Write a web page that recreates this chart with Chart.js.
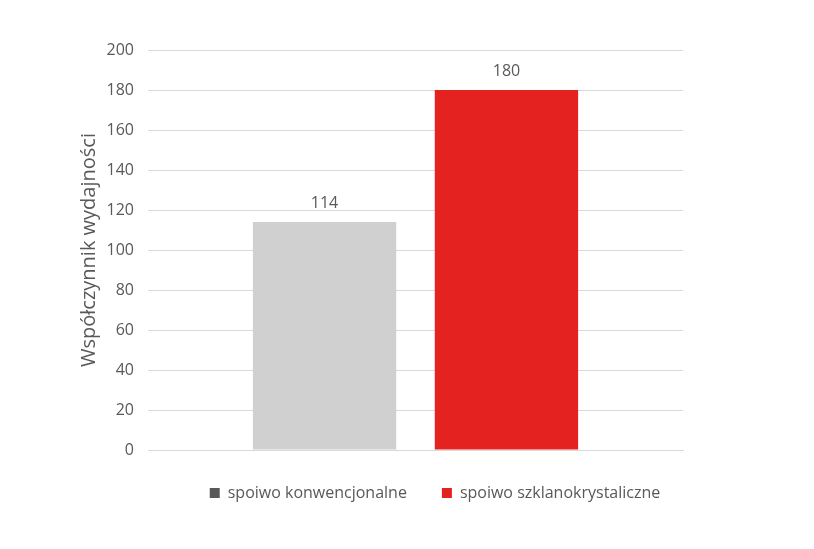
<!DOCTYPE html>
<html>
<head>
<meta charset="utf-8">
<script src="https://cdn.jsdelivr.net/npm/chart.js@4/dist/chart.umd.min.js"></script>
<style>
  html, body { margin: 0; padding: 0; background: #fff; }
  #wrap { width: 814px; height: 549px; }
</style>
</head>
<body>
<div id="wrap"><canvas id="c"></canvas></div>
<script>
/* Dane wykresu */
const CATEGORIES = ["Współczynnik"];
const SERIES_NAMES = ["spoiwo konwencjonalne", "spoiwo szklanokrystaliczne"];
const SERIES_VALUES = [[114], [180]];
const BAR_COLORS = ["#d0d0d0", "#e42320"];
const LEGEND_COLORS = ["#595959", "#e42320"];
const Y_TITLE = "Współczynnik wydajności";

const TEXT = "#595959";
const GRID = "#d9d9d9";
const FONT = "'Open Sans', 'Noto Sans', sans-serif";

/* Etykiety wartości nad słupkami */
const valueLabels = {
  id: "valueLabels",
  afterDatasetsDraw(chart) {
    const ctx = chart.ctx;
    ctx.save();
    ctx.fillStyle = TEXT;
    ctx.font = "16px " + FONT;
    ctx.textAlign = "center";
    ctx.textBaseline = "alphabetic";
    chart.data.datasets.forEach((ds, i) => {
      chart.getDatasetMeta(i).data.forEach((bar, j) => {
        ctx.fillText(String(ds.data[j]), bar.x, bar.y - 14);
      });
    });
    ctx.restore();
  },
};

const datasets = SERIES_NAMES.map((name, i) => ({
  label: name,
  data: SERIES_VALUES[i],
  backgroundColor: BAR_COLORS[i],
  borderWidth: 0,
  categoryPercentage: 0.68,
  barPercentage: 0.788,
}));

new Chart(document.getElementById("c"), {
  type: "bar",
  data: { labels: CATEGORIES, datasets },
  plugins: [valueLabels],
  options: {
    responsive: true,
    maintainAspectRatio: false,
    animation: false,
    layout: { padding: { top: 50, right: 0, bottom: 38, left: 56 } },
    plugins: {
      tooltip: { enabled: false },
      legend: {
        position: "bottom",
        labels: {
          color: TEXT,
          font: { family: FONT, size: 16 },
          boxWidth: 10,
          boxHeight: 10,
          padding: 35,
          generateLabels(chart) {
            return chart.data.datasets.map((ds, i) => ({
              text: ds.label,
              fillStyle: LEGEND_COLORS[i],
              strokeStyle: LEGEND_COLORS[i],
              lineWidth: 0,
              fontColor: TEXT,
              datasetIndex: i,
            }));
          },
        },
      },
    },
    scales: {
      x: {
        ticks: { display: false },
        grid: { display: false },
        border: { color: GRID, width: 1 },
        afterFit(scale) { scale.height = 0; },
      },
      y: {
        min: 0,
        max: 200,
        ticks: { stepSize: 20, color: TEXT, font: { family: FONT, size: 16 }, padding: 14 },
        grid: { color: GRID, lineWidth: 1, drawTicks: false },
        border: { display: false },
        title: {
          display: true,
          text: Y_TITLE,
          color: TEXT,
          font: { family: FONT, size: 20 },
          padding: { top: 21, bottom: 0 },
        },
        afterFit(scale) { scale.width = 92; },
      },
      /* pusty margines po prawej stronie obszaru wykresu */
      right: {
        position: "right",
        ticks: { display: false },
        grid: { display: false },
        border: { display: false },
        afterFit(scale) { scale.width = 131; },
      },
    },
  },
});
</script>
</body>
</html>
